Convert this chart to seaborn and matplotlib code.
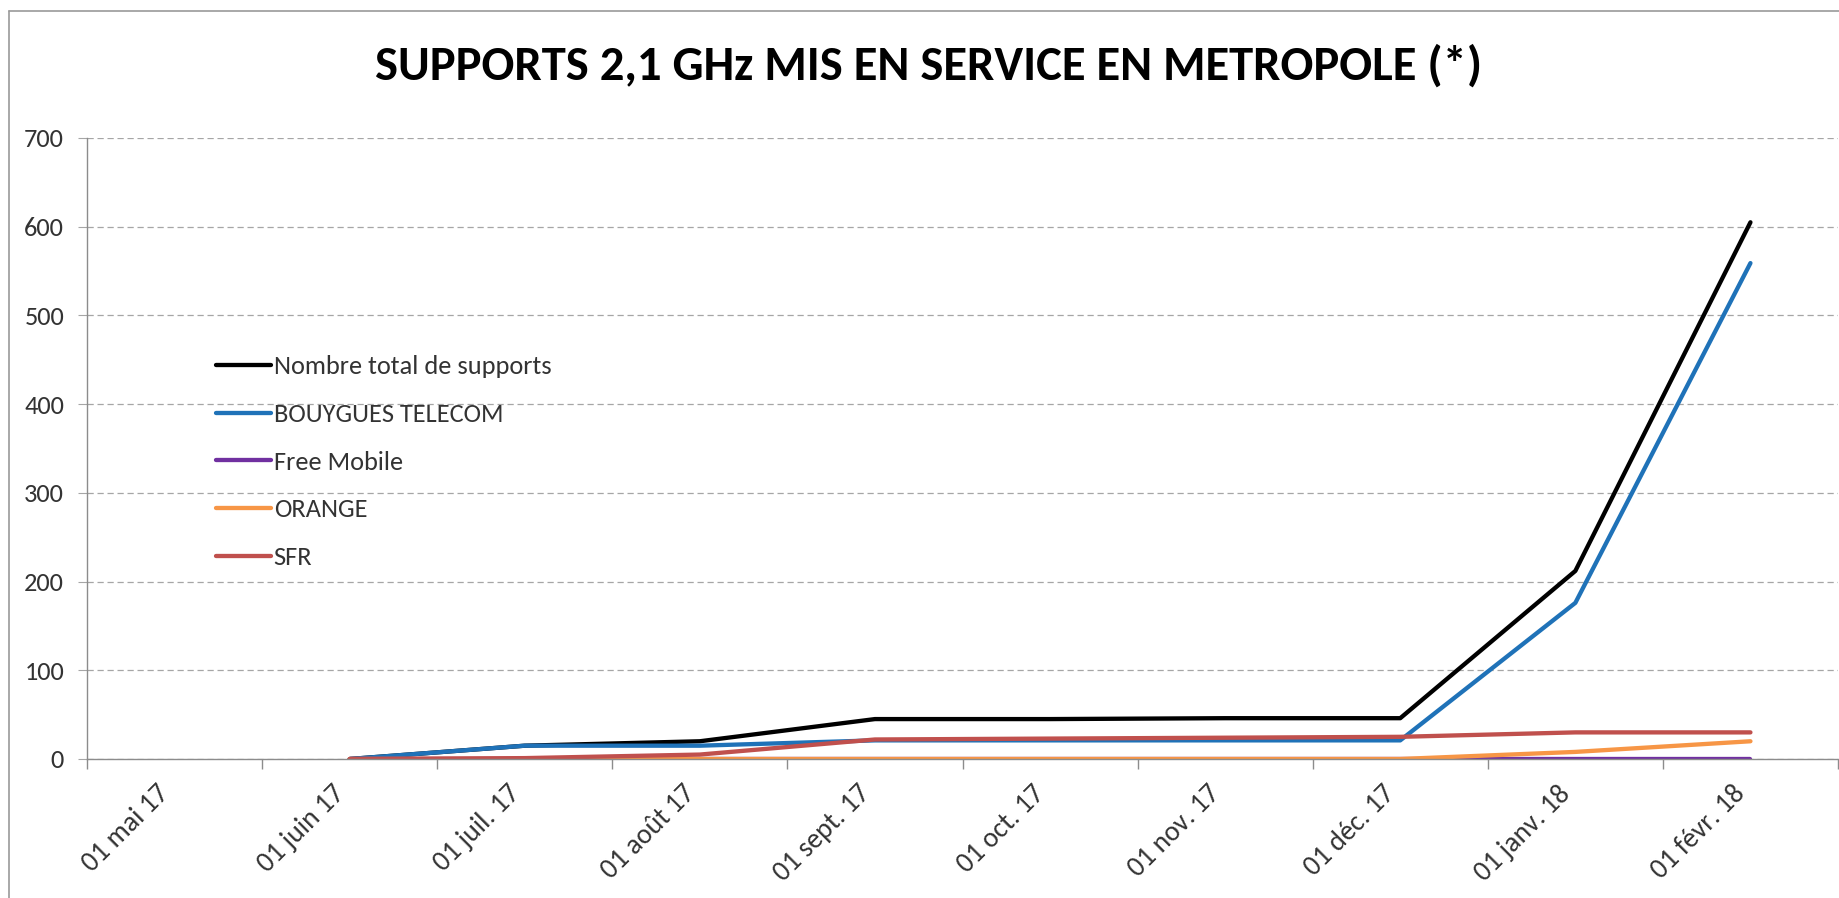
import numpy as np
import pandas as pd
import matplotlib
matplotlib.use("Agg")
import matplotlib.pyplot as plt
import matplotlib.transforms as mtransforms
from matplotlib import font_manager
from matplotlib.lines import Line2D
import seaborn as sns

# ---- data ----
months = ['01 mai 17', '01 juin 17', '01 juil. 17', '01 août 17', '01 sept. 17',
          '01 oct. 17', '01 nov. 17', '01 déc. 17', '01 janv. 18', '01 févr. 18']
total = [np.nan, 0, 15, 20, 45, 45, 46, 46, 212, 605]
bouygues = [np.nan, 0, 15, 15, 21, 21, 21, 21, 176, 559]
free = [np.nan, 0, 0, 0, 0, 0, 0, 0, 0, 0]
orange = [np.nan, 0, 0, 0, 0, 0, 0, 0, 8, 20]
sfr = [np.nan, 0, 1, 5, 22, 23, 24, 25, 30, 30]
series_names = ['Nombre total de supports', 'BOUYGUES TELECOM', 'Free Mobile', 'ORANGE', 'SFR']
series_colors = ['#000000', '#1F72B8', '#7030A0', '#F79646', '#C0504D']
yticks = [0, 100, 200, 300, 400, 500, 600, 700]
title = 'SUPPORTS 2,1 GHz MIS EN SERVICE EN METROPOLE (*)'

sns.set_theme(style='white')
available = {f.name for f in font_manager.fontManager.ttflist}
fam = 'Carlito' if 'Carlito' in available else 'Lato'
plt.rcParams['font.family'] = [fam, 'DejaVu Sans']

W, H, DPI = 1839, 898, 100
fig = plt.figure(figsize=(W / DPI, H / DPI), dpi=DPI)
fig.patch.set_facecolor('white')
ax = fig.add_axes([87 / W, 1 - 759 / H, (1838 - 87) / W, (759 - 138) / H])

x = np.arange(len(months))
for name, vals, col in zip(series_names, [total, bouygues, free, orange, sfr], series_colors):
    df = pd.DataFrame({'x': x, 'y': vals})
    sns.lineplot(data=df, x='x', y='y', color=col, lw=3.1, label=name, ax=ax,
                 solid_capstyle='round', solid_joinstyle='round')

ax.set_xlim(-0.5, len(months) - 0.5)
ax.set_ylim(0, 700)
ax.set_yticks(yticks)
ax.set_yticklabels([str(v) for v in yticks])
ax.set_xticks(x)
ax.set_xticklabels(months, rotation=45, ha='right', va='center', rotation_mode='anchor')
ax.set_xticks(np.arange(-0.5, len(months) + 0.5, 1), minor=True)
ax.set_xlabel('')
ax.set_ylabel('')

ax.tick_params(axis='x', which='major', length=0, pad=22, labelsize=20, labelcolor='#333333')
ax.tick_params(axis='x', which='minor', length=7, width=1, color='#8C8C8C', direction='out', bottom=True)
ax.tick_params(axis='y', length=6.5, width=0.8, color='#A6A6A6', direction='out', left=True,
               pad=10, labelsize=19, labelcolor='#333333')

offset = mtransforms.ScaledTranslation(-9 / DPI, 0, fig.dpi_scale_trans)
for lab in ax.get_xticklabels():
    lab.set_transform(lab.get_transform() + offset)

ax.yaxis.grid(True, color='#A6A6A6', linestyle=(0, (5, 3)), linewidth=0.9)
ax.xaxis.grid(False)
ax.set_axisbelow(True)
for s in ['top', 'right']:
    ax.spines[s].set_visible(False)
for s in ['left', 'bottom']:
    ax.spines[s].set_visible(True)
    ax.spines[s].set_color('#8C8C8C')
    ax.spines[s].set_linewidth(1.0)

leg = ax.legend(loc='upper left', bbox_to_anchor=(216 / W, 1 - 355 / H),
                bbox_transform=fig.transFigure, frameon=False, fontsize=19,
                handlelength=2.08, handletextpad=0.11, labelspacing=0.94,
                borderpad=0, borderaxespad=0)
for t in leg.get_texts():
    t.set_color('#333333')
for h in leg.get_lines():
    h.set_linewidth(3.1)

fig.text(929 / W, 1 - 66 / H, title, ha='center', va='center', fontsize=35,
         fontweight='bold', color='#000000')

# chart border (left and top visible)
fig.add_artist(Line2D([9 / W, 9 / W], [0, 1 - 11 / H], transform=fig.transFigure,
                      color='#9A9A9A', lw=1.2))
fig.add_artist(Line2D([9 / W, 1], [1 - 11 / H, 1 - 11 / H], transform=fig.transFigure,
                      color='#9A9A9A', lw=1.2))

fig.savefig('out.png', dpi=DPI)
